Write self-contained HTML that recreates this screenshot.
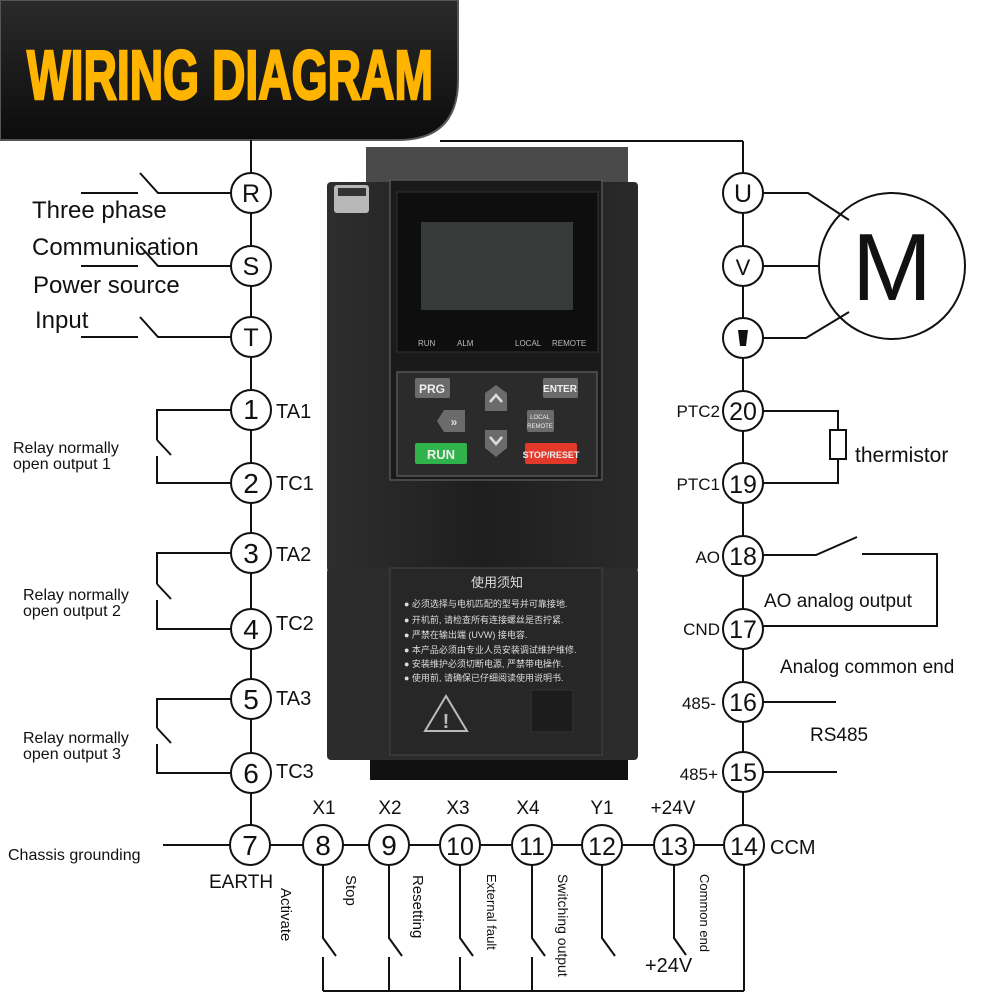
<!DOCTYPE html>
<html><head><meta charset="utf-8"><style>
body{margin:0;background:#fff}
svg{display:block}
text{font-family:"Liberation Sans","Noto Sans CJK SC",sans-serif}
</style></head><body>
<svg width="1000" height="1000" viewBox="0 0 1000 1000" xmlns="http://www.w3.org/2000/svg">
<defs>
<linearGradient id="hdr" x1="0" y1="0" x2="0" y2="1"><stop offset="0" stop-color="#2a2a2a"/><stop offset="1" stop-color="#0c0c0c"/></linearGradient>
<linearGradient id="body" x1="0" y1="0" x2="1" y2="0"><stop offset="0" stop-color="#2e2e2e"/><stop offset="0.5" stop-color="#1e1e1e"/><stop offset="1" stop-color="#2a2a2a"/></linearGradient>
</defs>
<!-- header -->
<path d="M0 0 H458 V80 Q458 140 398 140 H0 Z" fill="url(#hdr)" stroke="#555" stroke-width="2"/>
<text x="27" y="99" font-size="70" font-weight="bold" fill="#ffb400" stroke="#ffb400" stroke-width="2.5" textLength="406" lengthAdjust="spacingAndGlyphs" font-family="Liberation Sans Narrow, Liberation Sans, sans-serif">WIRING DIAGRAM</text>
<line x1="440" y1="141" x2="743" y2="141" stroke="#111" stroke-width="2"/>

<!-- device -->
<rect x="366" y="147" width="262" height="40" fill="#4a4a4a"/>
<rect x="370" y="750" width="258" height="30" fill="#111"/>
<rect x="327" y="182" width="311" height="390" rx="4" fill="url(#body)"/>
<rect x="327" y="568" width="311" height="192" rx="4" fill="#2c2c2c"/>
<rect x="390" y="180" width="212" height="300" fill="#1a1a1a" stroke="#555" stroke-width="1.5"/>
<rect x="397" y="192" width="201" height="160" fill="#0e0e0e" stroke="#333"/>
<rect x="421" y="222" width="152" height="88" fill="#363a38"/>
<rect x="334" y="185" width="35" height="28" rx="3" fill="#b8b8b8"/>
<rect x="338" y="188" width="28" height="8" fill="#333"/>
<text x="418" y="346" font-size="8" fill="#bbb">RUN</text>
<text x="457" y="346" font-size="8" fill="#bbb">ALM</text>
<text x="515" y="346" font-size="8" fill="#bbb">LOCAL</text>
<text x="552" y="346" font-size="8" fill="#bbb">REMOTE</text>
<rect x="397" y="372" width="200" height="104" fill="#2b2b2b" stroke="#555" stroke-width="1.5"/>
<rect x="415" y="378" width="35" height="20" rx="2" fill="#6b6b6b"/><text x="432" y="393" font-size="12" font-weight="bold" fill="#eee" text-anchor="middle">PRG</text>
<rect x="543" y="378" width="35" height="20" rx="2" fill="#6b6b6b"/><text x="560" y="392" font-size="10" font-weight="bold" fill="#eee" text-anchor="middle">ENTER</text>
<polygon points="485,393 496,385 507,393 507,411 485,411" fill="#6b6b6b"/><polyline points="490,402 496,395 502,402" fill="none" stroke="#ddd" stroke-width="2.5"/>
<polygon points="485,430 507,430 507,448 496,457 485,448" fill="#6b6b6b"/><polyline points="490,437 496,444 502,437" fill="none" stroke="#ddd" stroke-width="2.5"/>
<polygon points="444,410 465,410 465,432 444,432 437,421" fill="#6b6b6b"/><text x="454" y="426" font-size="12" font-weight="bold" fill="#ddd" text-anchor="middle">»</text>
<rect x="527" y="410" width="27" height="22" rx="2" fill="#6b6b6b"/><text x="540" y="419" font-size="6" fill="#eee" text-anchor="middle">LOCAL</text><text x="540" y="428" font-size="6" fill="#eee" text-anchor="middle">REMOTE</text>
<rect x="415" y="443" width="52" height="21" rx="2" fill="#2fb34a"/><text x="441" y="459" font-size="13" font-weight="bold" fill="#eee" text-anchor="middle">RUN</text>
<rect x="525" y="443" width="52" height="21" rx="2" fill="#e3392b"/><text x="551" y="458" font-size="9" font-weight="bold" fill="#eee" text-anchor="middle">STOP/RESET</text>
<rect x="390" y="568" width="212" height="187" fill="#272727" stroke="#444"/>
<text x="497" y="587" font-size="13" fill="#ddd" text-anchor="middle">使用须知</text>
<g font-size="9" fill="#ddd">
<text x="404" y="607">● 必须选择与电机匹配的型号并可靠接地.</text>
<text x="404" y="623">● 开机前, 请检查所有连接螺丝是否拧紧.</text>
<text x="404" y="638">● 严禁在输出端 (UVW) 接电容.</text>
<text x="404" y="653">● 本产品必须由专业人员安装调试维护维修.</text>
<text x="404" y="667">● 安装维护必须切断电源, 严禁带电操作.</text>
<text x="404" y="681">● 使用前, 请确保已仔细阅读使用说明书.</text>
</g>
<polygon points="446,696 425,731 467,731" fill="none" stroke="#bbb" stroke-width="2"/>
<text x="446" y="728" font-size="20" font-weight="bold" fill="#bbb" text-anchor="middle">!</text>
<rect x="531" y="690" width="42" height="42" fill="#1c1c1c" stroke="#333"/>

<!-- wiring -->
<g stroke="#111" stroke-width="2" fill="none">
<line x1="251" y1="140" x2="251" y2="825"/>
<line x1="743" y1="141" x2="743" y2="825"/>
<polyline points="140,173 158,193 231,193"/><line x1="81" y1="193" x2="138" y2="193"/>
<polyline points="140,246 158,266 231,266"/><line x1="81" y1="266" x2="138" y2="266"/>
<polyline points="140,317 158,337 231,337"/><line x1="81" y1="337" x2="138" y2="337"/>
<polyline points="231,410 157,410 157,440"/><line x1="157" y1="440" x2="171" y2="455"/><polyline points="157,456 157,483 231,483"/>
<polyline points="231,553 157,553 157,584"/><line x1="157" y1="584" x2="171" y2="599"/><polyline points="157,600 157,629 231,629"/>
<polyline points="231,699 157,699 157,728"/><line x1="157" y1="728" x2="171" y2="743"/><polyline points="157,744 157,773 231,773"/>
<circle cx="892" cy="266" r="73"/>
<polyline points="763,193 808,193 849,220"/>
<line x1="763" y1="266" x2="820" y2="266"/>
<polyline points="763,338 806,338 849,312"/>
<polyline points="763,411 838,411 838,430"/><rect x="830" y="430" width="16" height="29"/><polyline points="838,459 838,483 763,483"/>
<polyline points="763,555 816,555 857,537"/><polyline points="862,554 937,554 937,626 763,626"/>
<line x1="763" y1="702" x2="836" y2="702"/>
<line x1="763" y1="772" x2="837" y2="772"/>
<line x1="163" y1="845" x2="744" y2="845"/>
<line x1="744" y1="845" x2="744" y2="991"/>
<line x1="323" y1="991" x2="744" y2="991"/>
<polyline points="323,863 323,938 336,956"/><line x1="323" y1="957" x2="323" y2="991"/>
<polyline points="389,863 389,938 402,956"/><line x1="389" y1="957" x2="389" y2="991"/>
<polyline points="460,863 460,938 473,956"/><line x1="460" y1="957" x2="460" y2="991"/>
<polyline points="532,863 532,938 545,956"/><line x1="532" y1="957" x2="532" y2="991"/>
<polyline points="602,863 602,938 615,956"/>
<polyline points="674,863 674,938 686,955"/>
</g>
<g stroke="#111" stroke-width="2" fill="#fff">
<circle cx="251" cy="193" r="20"/><circle cx="251" cy="266" r="20"/><circle cx="251" cy="337" r="20"/>
<circle cx="251" cy="410" r="20"/><circle cx="251" cy="483" r="20"/><circle cx="251" cy="553" r="20"/>
<circle cx="251" cy="629" r="20"/><circle cx="251" cy="699" r="20"/><circle cx="251" cy="773" r="20"/>
<circle cx="250" cy="845" r="20"/><circle cx="323" cy="845" r="20"/><circle cx="389" cy="845" r="20"/>
<circle cx="460" cy="845" r="20"/><circle cx="532" cy="845" r="20"/><circle cx="602" cy="845" r="20"/>
<circle cx="674" cy="845" r="20"/><circle cx="744" cy="845" r="20"/>
<circle cx="743" cy="193" r="20"/><circle cx="743" cy="266" r="20"/><circle cx="743" cy="338" r="20"/>
<circle cx="743" cy="411" r="20"/><circle cx="743" cy="483" r="20"/><circle cx="743" cy="556" r="20"/>
<circle cx="743" cy="629" r="20"/><circle cx="743" cy="702" r="20"/><circle cx="743" cy="772" r="20"/>
</g>
<g font-size="25" fill="#111" text-anchor="middle">
<text x="251" y="202">R</text><text x="251" y="275">S</text><text x="251" y="346">T</text>
<text x="251" y="419" font-size="28">1</text><text x="251" y="493" font-size="28">2</text><text x="251" y="563" font-size="28">3</text>
<text x="251" y="639" font-size="28">4</text><text x="251" y="709" font-size="28">5</text><text x="251" y="783" font-size="28">6</text>
<text x="250" y="855" font-size="28">7</text><text x="323" y="855" font-size="28">8</text><text x="389" y="855" font-size="28">9</text>
<text x="460" y="855">10</text><text x="532" y="855">11</text><text x="602" y="855">12</text><text x="674" y="855">13</text><text x="744" y="855">14</text>
<text x="743" y="202">U</text><text x="743" y="275" font-size="22">V</text>
<polygon points="738,330 748,330 746,346 740,346" fill="#111"/>
<text x="743" y="420">20</text><text x="743" y="493">19</text><text x="743" y="565">18</text>
<text x="743" y="638">17</text><text x="743" y="711">16</text><text x="743" y="781">15</text>
<text x="892" y="300" font-size="96">M</text>
</g>
<g fill="#111">
<text x="32" y="218" font-size="24">Three phase</text>
<text x="32" y="255" font-size="24">Communication</text>
<text x="33" y="293" font-size="24">Power source</text>
<text x="35" y="328" font-size="24">Input</text>
<g font-size="20"><text x="276" y="418">TA1</text><text x="276" y="490">TC1</text><text x="276" y="561">TA2</text><text x="276" y="630">TC2</text><text x="276" y="705">TA3</text><text x="276" y="778">TC3</text></g>
<g font-size="16"><text x="13" y="453">Relay normally</text><text x="13" y="469">open output 1</text>
<text x="23" y="600">Relay normally</text><text x="23" y="616">open output 2</text>
<text x="23" y="743">Relay normally</text><text x="23" y="759">open output 3</text>
<text x="8" y="860">Chassis grounding</text></g>
<g font-size="17" text-anchor="end"><text x="720" y="417">PTC2</text><text x="720" y="490">PTC1</text><text x="720" y="563">AO</text><text x="720" y="635">CND</text><text x="716" y="709">485-</text><text x="718" y="780">485+</text></g>
<text x="855" y="462" font-size="21">thermistor</text>
<text x="764" y="607" font-size="19">AO analog output</text>
<text x="780" y="673" font-size="19">Analog common end</text>
<text x="810" y="741" font-size="19">RS485</text>
<g font-size="19" text-anchor="middle"><text x="324" y="814">X1</text><text x="390" y="814">X2</text><text x="458" y="814">X3</text><text x="528" y="814">X4</text><text x="602" y="814">Y1</text><text x="673" y="814">+24V</text></g>
<text x="209" y="888" font-size="19">EARTH</text>
<text x="645" y="972" font-size="20">+24V</text>
<text x="770" y="854" font-size="20">CCM</text>
<g font-size="15">
<text transform="translate(281,888) rotate(90)">Activate</text>
<text transform="translate(346,875) rotate(90)">Stop</text>
<text transform="translate(413,875) rotate(90)">Resetting</text>
<text transform="translate(487,874) rotate(90)" font-size="13">External fault</text>
<text transform="translate(558,874) rotate(90)" font-size="14">Switching output</text>
<text transform="translate(700,874) rotate(90)" font-size="13">Common end</text>
</g>
</g>
</svg>
</body></html>
